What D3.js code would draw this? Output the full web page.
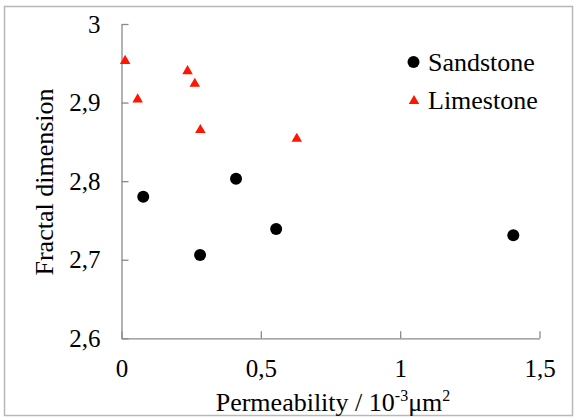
<!DOCTYPE html>
<html>
<head>
<meta charset="utf-8">
<script src="https://cdn.jsdelivr.net/npm/d3@7"></script>
<style>
  body { margin: 0; background: #fff; }
</style>
</head>
<body>
<div id="chart"></div>
<script>
// Data
var sandstoneK = [0.078, 0.411, 0.282, 0.555, 1.406];
var sandstoneD = [2.780, 2.803, 2.706, 2.739, 2.731];

var limestoneK = [0.013, 0.058, 0.237, 0.263, 0.283, 0.629];
var limestoneD = [2.953, 2.904, 2.940, 2.924, 2.865, 2.854];

var xTicks = [0, 0.5, 1, 1.5];
var yTicks = [2.6, 2.7, 2.8, 2.9, 3];

var seriesNames = ["Sandstone", "Limestone"];

var svgWidth = 575;
var svgHeight = 418;

var margin = { top: 24, right: 35, bottom: 80, left: 121.5 };
var width = 539.5 - margin.left;
var height = 338.3 - margin.top;

var serif = '"Liberation Serif"';
var red = "#ff1500";

var svg = d3.select("#chart")
  .append("svg")
  .attr("width", svgWidth)
  .attr("height", svgHeight);

// outer frame
svg.append("rect")
  .attr("x", 4.5)
  .attr("y", 6.5)
  .attr("width", 568)
  .attr("height", 409)
  .attr("fill", "none")
  .attr("stroke", "#b8b8b8")
  .attr("stroke-width", 1.5);

var chartGroup = svg.append("g")
  .attr("transform", `translate(${margin.left}, ${margin.top})`);

var xScale = d3.scaleLinear().domain([0, 1.5]).range([0, width]);
var yScale = d3.scaleLinear().domain([2.6, 3]).range([height, 0]);

var fmt = d => String(d).replace(".", ",");

var bottomAxis = d3.axisBottom(xScale)
  .tickValues(xTicks)
  .tickFormat(fmt)
  .tickSizeInner(-7)
  .tickSizeOuter(0)
  .tickPadding(21);

var leftAxis = d3.axisLeft(yScale)
  .tickValues(yTicks)
  .tickFormat(fmt)
  .tickSizeInner(-7)
  .tickSizeOuter(0)
  .tickPadding(21);

var xAxis = chartGroup.append("g")
  .attr("transform", `translate(0, ${height})`)
  .call(bottomAxis);

var yAxis = chartGroup.append("g")
  .call(leftAxis);

[xAxis, yAxis].forEach(function(ax) {
  ax.attr("font-family", null).attr("font-size", null);
  ax.selectAll("path, line")
    .attr("stroke", "#8a8a8a")
    .attr("stroke-width", 1.3);
  ax.selectAll("text")
    .style("font-family", serif)
    .style("font-size", "25px")
    .attr("fill", "#000");
});

// sandstone circles
chartGroup.selectAll("circle.sand")
  .data(sandstoneK.map((k, i) => ({ k: k, d: sandstoneD[i] })))
  .enter()
  .append("circle")
  .attr("class", "sand")
  .attr("cx", d => xScale(d.k))
  .attr("cy", d => yScale(d.d))
  .attr("r", 6)
  .attr("fill", "#000");

// limestone triangles
var tri = d3.symbol().type(d3.symbolTriangle).size(48);
chartGroup.selectAll("path.lime")
  .data(limestoneK.map((k, i) => ({ k: k, d: limestoneD[i] })))
  .enter()
  .append("path")
  .attr("class", "lime")
  .attr("d", tri)
  .attr("transform", d => `translate(${xScale(d.k)}, ${yScale(d.d)})`)
  .attr("fill", red);

// legend
var legend = svg.append("g");
legend.append("circle")
  .attr("cx", 413.5)
  .attr("cy", 62)
  .attr("r", 6)
  .attr("fill", "#000");
legend.append("path")
  .attr("d", tri)
  .attr("transform", "translate(414, 101)")
  .attr("fill", red);
legend.selectAll("text.leg")
  .data(seriesNames)
  .enter()
  .append("text")
  .attr("class", "leg")
  .attr("x", 428)
  .attr("y", (d, i) => 71 + i * 38)
  .style("font-family", serif)
  .style("font-size", "26px")
  .text(d => d);

// y axis title
svg.append("text")
  .attr("transform", "translate(53, 182) rotate(-90)")
  .attr("text-anchor", "middle")
  .style("font-family", serif)
  .style("font-size", "26px")
  .text("Fractal dimension");

// x axis title
var xTitle = svg.append("text")
  .attr("x", 333)
  .attr("y", 411)
  .attr("text-anchor", "middle")
  .style("font-family", serif)
  .style("font-size", "26px");
xTitle.append("tspan").text("Permeability / 10");
xTitle.append("tspan").attr("dy", -10).style("font-size", "16px").text("-3");
xTitle.append("tspan").attr("dy", 10).text("\u03bcm");
xTitle.append("tspan").attr("dy", -10).style("font-size", "16px").text("2");
</script>
</body>
</html>
